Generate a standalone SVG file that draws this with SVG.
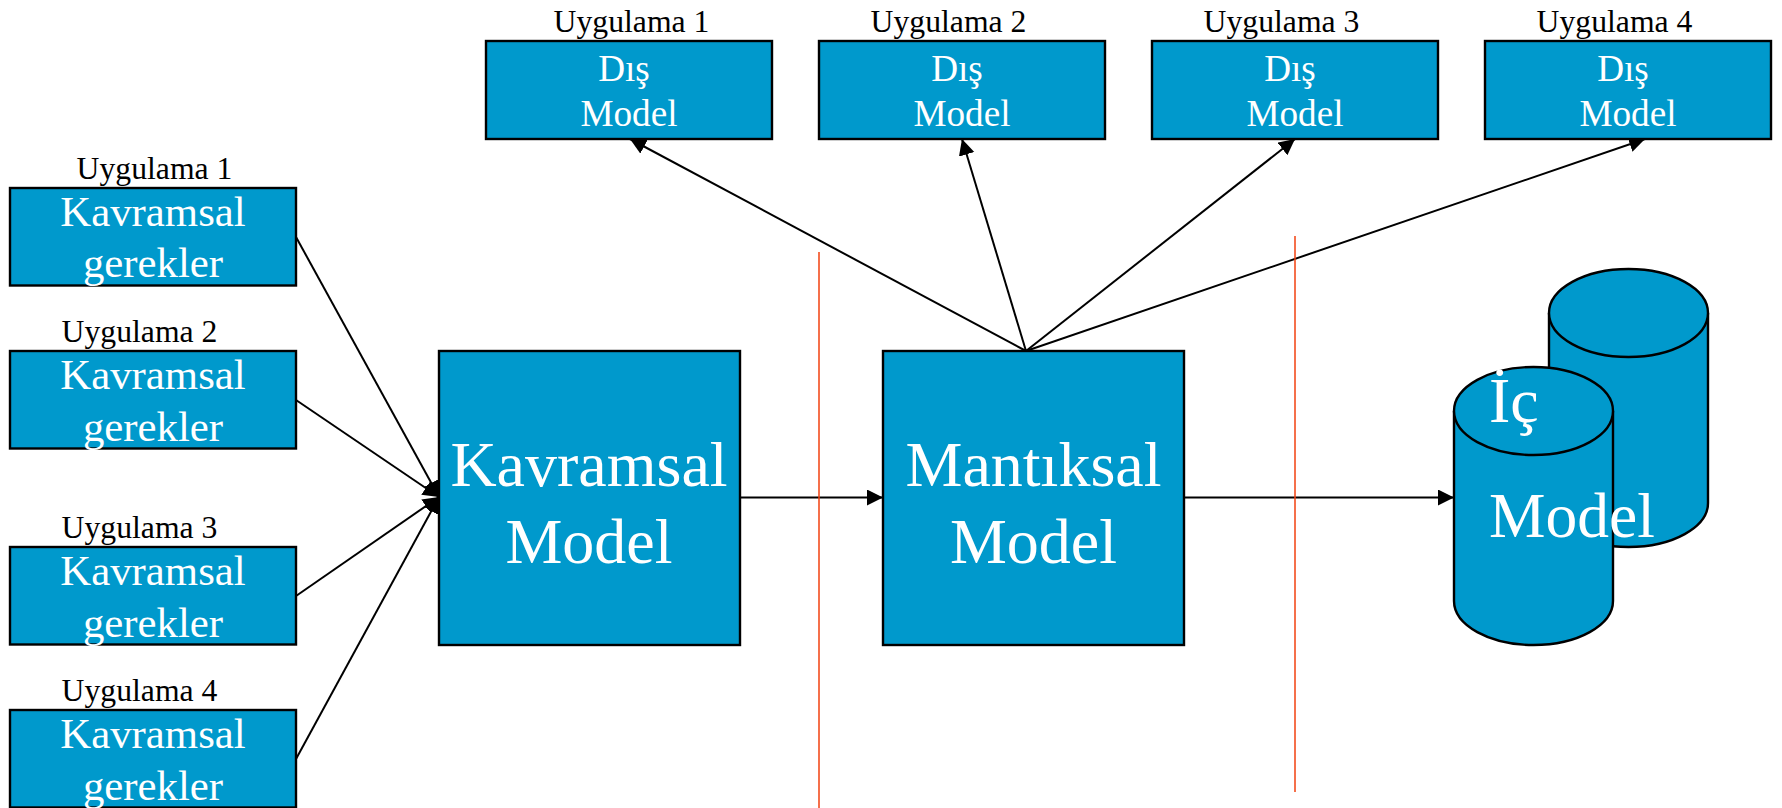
<svg xmlns="http://www.w3.org/2000/svg" width="1782" height="808" viewBox="0 0 1782 808">
<style>
text{font-family:"Liberation Serif","Times New Roman",serif;text-anchor:middle}
.b{fill:#0099cc;stroke:#000;stroke-width:2.4}
.lb{fill:#000;font-size:31.7px}
.k{fill:#fff;font-size:42.8px}
.d{fill:#fff;font-size:37.2px}
.h{fill:#fff;font-size:64px}
.c{stroke:#000;stroke-width:2;fill:none}
.a{marker-end:url(#ah)}
.r{stroke:#f2400f;stroke-width:1.5;fill:none}
</style>
<defs><marker id="ah" markerUnits="userSpaceOnUse" markerWidth="18" markerHeight="18" refX="16" refY="8" orient="auto"><path d="M0 0L16 8L0 16Z" fill="#000"/></marker></defs>
<rect width="1782" height="808" fill="#fff"/>
<g id="connectors">
<path class="c a" d="M296 237L439 497"/>
<path class="c a" d="M296 400L439 497"/>
<path class="c a" d="M296 596L439 497"/>
<path class="c a" d="M296 759L439 497"/>
<path class="c a" d="M740 497.500H883"/>
<path class="c a" d="M1184 497.500H1454"/>
<path class="c a" d="M1026 351L630 139"/>
<path class="c a" d="M1026 351L962 139"/>
<path class="c a" d="M1026 351L1295 139"/>
<path class="c a" d="M1026 351L1645 139"/>
<path class="r" d="M819 252V808"/>
<path class="r" d="M1295 236V792"/>
</g>
<g id="req1"><text class="lb" x="154.500" y="179">Uygulama 1</text><rect class="b" x="10" y="188" width="286" height="97.500"/><text class="k" x="153" y="226">Kavramsal</text><text class="k" x="153" y="277">gerekler</text></g>
<g id="req2"><text class="lb" x="139.500" y="342">Uygulama 2</text><rect class="b" x="10" y="351" width="286" height="97.500"/><text class="k" x="153" y="389">Kavramsal</text><text class="k" x="153" y="441">gerekler</text></g>
<g id="req3"><text class="lb" x="139.500" y="538">Uygulama 3</text><rect class="b" x="10" y="547" width="286" height="97.500"/><text class="k" x="153" y="585">Kavramsal</text><text class="k" x="153" y="637">gerekler</text></g>
<g id="req4"><text class="lb" x="139.500" y="701">Uygulama 4</text><rect class="b" x="10" y="710" width="286" height="97.500"/><text class="k" x="153" y="748">Kavramsal</text><text class="k" x="153" y="800">gerekler</text></g>
<g id="ext1"><text class="lb" x="631.500" y="32">Uygulama 1</text><rect class="b" x="486" y="41" width="286" height="98"/><text class="d" x="624" y="81">Dış</text><text class="d" x="629" y="126">Model</text></g>
<g id="ext2"><text class="lb" x="948.500" y="32">Uygulama 2</text><rect class="b" x="819" y="41" width="286" height="98"/><text class="d" x="957" y="81">Dış</text><text class="d" x="962" y="126">Model</text></g>
<g id="ext3"><text class="lb" x="1281.500" y="32">Uygulama 3</text><rect class="b" x="1152" y="41" width="286" height="98"/><text class="d" x="1290" y="81">Dış</text><text class="d" x="1295" y="126">Model</text></g>
<g id="ext4"><text class="lb" x="1614.500" y="32">Uygulama 4</text><rect class="b" x="1485" y="41" width="286" height="98"/><text class="d" x="1623" y="81">Dış</text><text class="d" x="1628" y="126">Model</text></g>
<g id="conceptual"><rect class="b" x="439" y="351" width="301" height="294"/><text class="h" x="589" y="486">Kavramsal</text><text class="h" x="589" y="563">Model</text></g>
<g id="logical"><rect class="b" x="883" y="351" width="301" height="294"/><text class="h" x="1033.500" y="486">Mantıksal</text><text class="h" x="1033.500" y="563">Model</text></g>
<g id="internal">
<path class="b" d="M1549 313V503A79.500 44 0 0 0 1708 503V313A79.500 44 0 0 0 1549 313Z"/><path class="b" d="M1549 313A79.500 44 0 0 0 1708 313"/>
<path class="b" d="M1454 411V601A79.500 44 0 0 0 1613 601V411A79.500 44 0 0 0 1454 411Z"/><path class="b" d="M1454 411A79.500 44 0 0 0 1613 411"/>
<text class="h" x="1489" y="422" style="text-anchor:start">İç</text><text class="h" x="1489" y="537" style="text-anchor:start;font-size:63.500px">Model</text>
</g>
</svg>
